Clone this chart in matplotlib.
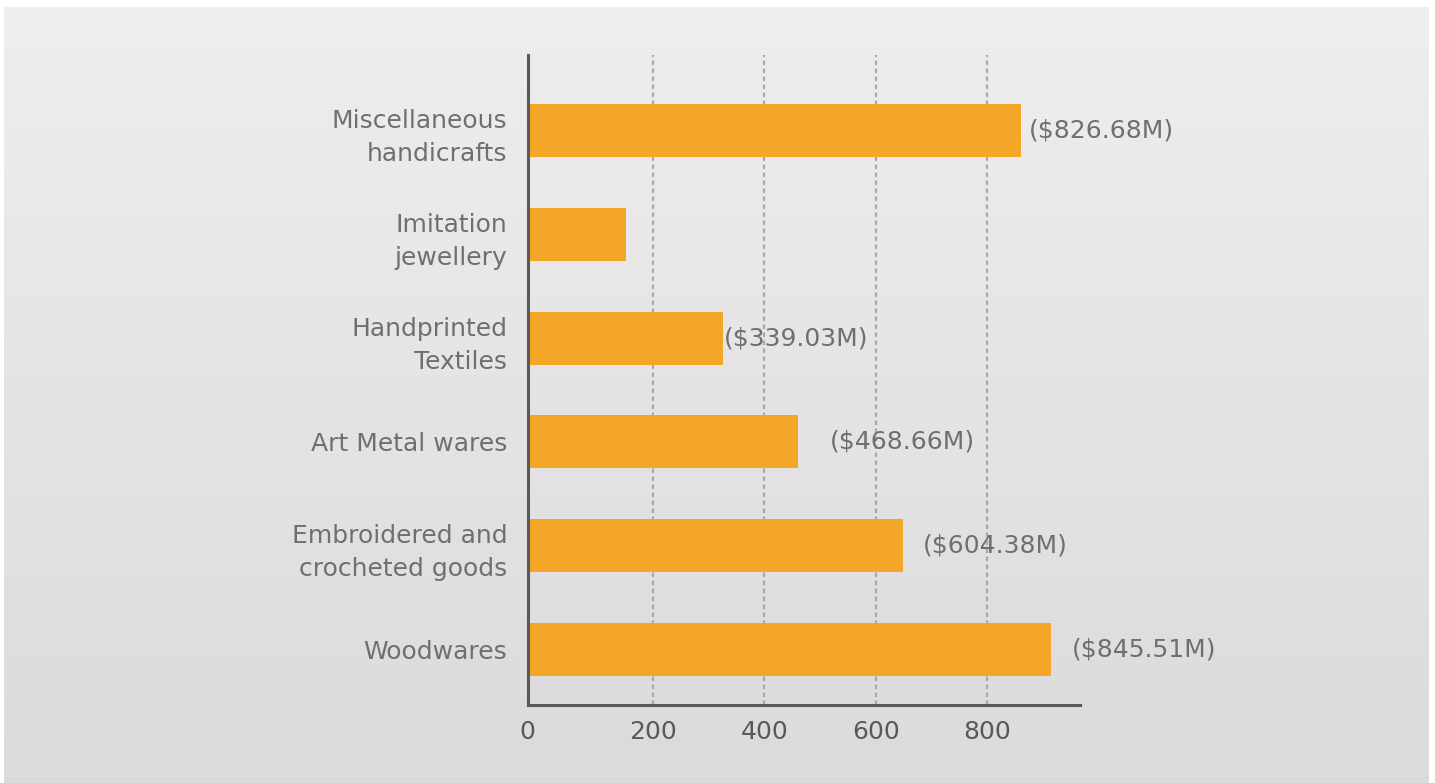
import numpy as np
import matplotlib
matplotlib.use("Agg")
import matplotlib.pyplot as plt

# data, bottom to top
categories = ["Woodwares", "Embroidered and\ncrocheted goods", "Art Metal wares",
              "Handprinted\nTextiles", "Imitation\njewellery", "Miscellaneous\nhandicrafts"]
values = [915, 649, 460, 326, 151, 861]
value_labels = ["($845.51M)", "($604.38M)", "($468.66M)", "($339.03M)", "", "($826.68M)"]
label_pad = [38, 35, 57, 2, 0, 14]
tick_values = [200, 400, 600, 800]

XMIN, XMAX = -25.5, 967
BAR_COLOR = "#F4A626"
TEXT_COLOR = "#6f6f6f"
AXIS_COLOR = "#595959"
FONT = ["DejaVu Sans"]
FS = 18

fig = plt.figure(figsize=(14.35, 7.83), dpi=100)
fig.patch.set_facecolor("white")

# gray gradient panel behind the chart
bg = fig.add_axes([4 / 1435, 0, 1425 / 1435, 776 / 783])
grad = np.linspace(0.93, 0.855, 256).reshape(-1, 1)
bg.imshow(grad, aspect="auto", cmap="gray", vmin=0, vmax=1, extent=[0, 1, 0, 1])
bg.axis("off")

ax = fig.add_axes([527.5 / 1435, 1 - 705 / 783, (1080 - 527.5) / 1435, 650 / 783])
ax.patch.set_alpha(0)

y = np.arange(len(categories))
ax.barh(y, [v - XMIN for v in values], left=XMIN, height=0.51, color=BAR_COLOR, zorder=3)

for yi, v, lab, pad in zip(y, values, value_labels, label_pad):
    if lab:
        ax.text(v + pad, yi, lab, va="center", ha="left", fontsize=FS,
                color=TEXT_COLOR, family=FONT, zorder=4)

ax.set_xlim(XMIN, XMAX)
ax.set_ylim(-0.535, 5.727)

for t in tick_values:
    ax.axvline(t, color="#a8a8a8", lw=1.6, ls=(0, (2, 1.6)), zorder=1)

ax.set_xticks([XMIN] + tick_values)
ax.set_xticklabels(["0"] + [str(t) for t in tick_values], fontsize=FS,
                   color=AXIS_COLOR, family=FONT)
ax.set_yticks(y)
ax.set_yticklabels(categories, fontsize=FS, color=TEXT_COLOR, family=FONT,
                   linespacing=1.49, ha="right")
ax.tick_params(axis="both", length=0)
ax.tick_params(axis="x", pad=11)
ax.tick_params(axis="y", pad=14.5)

for s in ["top", "right"]:
    ax.spines[s].set_visible(False)
for s in ["left", "bottom"]:
    ax.spines[s].set_color(AXIS_COLOR)
    ax.spines[s].set_linewidth(2.2)
    ax.spines[s].set_zorder(5)

fig.savefig("out.png", dpi=100)
